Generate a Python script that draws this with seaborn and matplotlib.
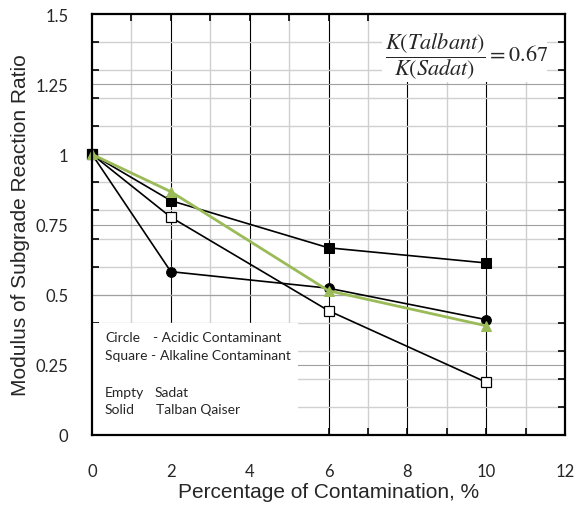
import numpy as np
import matplotlib
matplotlib.use("Agg")
import matplotlib.pyplot as plt
from matplotlib.patches import Rectangle
import seaborn as sns

# percentage of contamination and modulus of subgrade reaction ratio
pct = [0, 2, 6, 10]
alk_talban = [1.0, 0.835, 0.667, 0.613]    # solid square
alk_sadat = [1.0, 0.776, 0.443, 0.188]     # empty square
acid_talban = [1.0, 0.582, 0.523, 0.411]   # solid circle
ratio_green = [1.0, 0.867, 0.514, 0.389]   # green triangle

x_ticks = [0, 2, 4, 6, 8, 10, 12]
x_tick_labels = ["0", "2", "4", "6", "8", "10", "12"]
y_ticks = [0, 0.25, 0.5, 0.75, 1.0, 1.25, 1.5]
y_tick_labels = ["0", "0.25", "0.5", "0.75", "1", "1.25", "1.5"]

note_left = ["Circle", "Square -", "Empty", "Solid"]
note_right = ["- Acidic Contaminant", "Alkaline Contaminant", "Sadat", "Talban Qaiser"]

sns.set_style("white")
plt.rcParams["font.family"] = ["Liberation Sans", "DejaVu Sans"]
plt.rcParams["mathtext.fontset"] = "stix"

fig = plt.figure(figsize=(5.76, 5.10), dpi=100)
ax = fig.add_axes([92 / 576, 1 - 436 / 510, 473 / 576, 421 / 510])
ax.set_xlim(0, 12)
ax.set_ylim(0, 1.5)

# grid drawn by hand: gray minor lines, black even verticals
for v in range(1, 12):
    if v % 2 == 0:
        ax.axvline(v, color="black", lw=0.8, zorder=0.5)
    else:
        ax.axvline(v, color="#cfcfcf", lw=1.0, zorder=0.5)
for h in np.arange(0.1, 1.5, 0.1):
    ax.axhline(h, color="#d0d0d0", lw=1.0, zorder=0.5)
for h in y_ticks[1:-1]:
    ax.axhline(h, color="#a0a0a0", lw=0.8, zorder=0.6)

# white boxes sitting over the grid
ax.add_patch(Rectangle((0, 0), 5.23, 0.40, facecolor="white", edgecolor="none", zorder=1))
ax.add_patch(Rectangle((7.36, 1.258), 4.18, 0.26, facecolor="white", edgecolor="none", zorder=1))

sns.lineplot(x=pct, y=acid_talban, color="black", lw=1.2, marker="o", markersize=7,
             markerfacecolor="black", markeredgecolor="black", clip_on=False, zorder=3, ax=ax)
sns.lineplot(x=pct, y=alk_sadat, color="black", lw=1.2, marker="s", markersize=6.5,
             markerfacecolor="white", markeredgecolor="black", markeredgewidth=0.9,
             clip_on=False, zorder=3, ax=ax)
sns.lineplot(x=pct, y=alk_talban, color="black", lw=1.2, marker="s", markersize=6.5,
             markerfacecolor="black", markeredgecolor="black", clip_on=False, zorder=3, ax=ax)
sns.lineplot(x=pct, y=ratio_green, color="#9BBB59", lw=2.0, marker="^", markersize=7.5,
             markerfacecolor="#9BBB59", markeredgecolor="#9BBB59", clip_on=False, zorder=4, ax=ax)

ax.set_xticks(x_ticks)
ax.set_xticklabels(x_tick_labels, fontfamily="Lato", fontsize=12)
ax.set_xticks(range(1, 12, 2), minor=True)
ax.set_yticks(y_ticks)
ax.set_yticklabels(y_tick_labels, fontfamily="Lato", fontsize=12)
ax.set_yticks(np.arange(0.1, 1.5, 0.1), minor=True)

ax.tick_params(axis="x", which="both", direction="in", length=5, width=1.2,
               top=True, bottom=True, color="black")
ax.tick_params(axis="x", which="major", pad=20)
ax.tick_params(axis="y", which="minor", direction="in", length=5, width=1.2,
               left=True, right=True, color="black")
ax.tick_params(axis="y", which="major", length=0, pad=17, left=True, right=True)

for s in ax.spines.values():
    s.set_color("black")
    s.set_linewidth(1.6)
    s.set_zorder(5)

ax.set_xlabel("Percentage of Contamination, %", fontsize=15, labelpad=2)
ax.set_ylabel("Modulus of Subgrade Reaction Ratio", fontsize=15, labelpad=4)

# note box text
ax.text(0.33, 0.349, note_left[0], fontfamily="Lato", fontsize=10, va="center", zorder=2)
ax.text(1.56, 0.349, note_right[0], fontfamily="Lato", fontsize=10, va="center", zorder=2)
ax.text(0.33, 0.285, note_left[1], fontfamily="Lato", fontsize=10, va="center", zorder=2)
ax.text(1.72, 0.285, note_right[1], fontfamily="Lato", fontsize=10, va="center", zorder=2)
ax.text(0.33, 0.153, note_left[2], fontfamily="Lato", fontsize=10, va="center", zorder=2)
ax.text(1.58, 0.153, note_right[2], fontfamily="Lato", fontsize=10, va="center", zorder=2)
ax.text(0.33, 0.093, note_left[3], fontfamily="Lato", fontsize=10, va="center", zorder=2)
ax.text(1.63, 0.093, note_right[3], fontfamily="Lato", fontsize=10, va="center", zorder=2)

ax.text(9.5, 1.35, r"$\dfrac{K(Talbant)}{K(Sadat)}{=}0.67$", fontsize=16,
        ha="center", va="center", zorder=2)

fig.savefig("out.png", dpi=100)
